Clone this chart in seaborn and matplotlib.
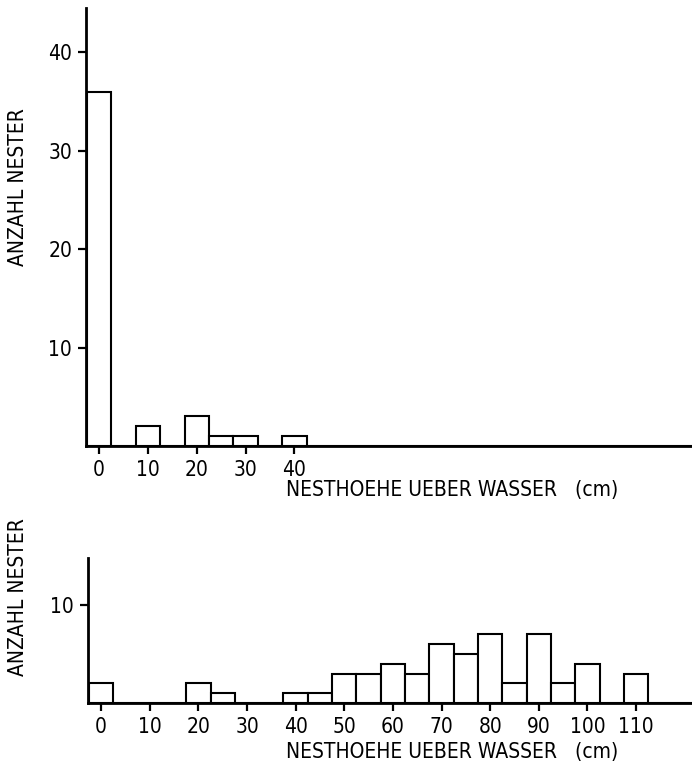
import numpy as np
import pandas as pd
import seaborn as sns
import matplotlib
matplotlib.use("Agg")
import matplotlib.pyplot as plt

# Data: bin centres (cm) and nest counts
top_heights = [0, 10, 20, 25, 30, 40]
top_counts = [36, 2, 3, 1, 1, 1]
bottom_heights = [0, 20, 25, 40, 45, 50, 55, 60, 65, 70, 75, 80, 85, 90, 95, 100, 110]
bottom_counts = [2, 2, 1, 1, 1, 3, 3, 4, 3, 6, 5, 7, 2, 7, 2, 4, 3]
top_xticks = [0, 10, 20, 30, 40]
bottom_xticks = [0, 10, 20, 30, 40, 50, 60, 70, 80, 90, 100, 110]
top_yticks = [10, 20, 30, 40]
bottom_yticks = [10]
xlabel = "NESTHOEHE UEBER WASSER   (cm)"
ylabel = "ANZAHL NESTER"

sns.set_theme(style="ticks")
plt.rcParams['font.family'] = ['DejaVu Sans']
plt.rcParams['font.stretch'] = 'condensed'
plt.rcParams['text.color'] = 'black'

W, H = 692, 773
fig = plt.figure(figsize=(W / 100, H / 100), dpi=100)

ax1 = fig.add_axes([86 / W, 1 - 446 / H, 1 - 86 / W, (446 - 8) / H])
ax2 = fig.add_axes([88 / W, 1 - 703 / H, 1 - 88 / W, (703 - 558) / H])

lw = 1.5
fs = 15

def draw(ax, xs, ws, ylim, xticks, yticks):
    df = pd.DataFrame({"h": xs, "n": ws})
    sns.histplot(data=df, x="h", weights="n", binwidth=5, binrange=(-2.5, 122.5),
                 ax=ax, color="white", edgecolor="black", linewidth=lw, alpha=1)
    ax.set_xlim(-2.7, 121.5)
    ax.set_ylim(0, ylim)
    ax.set_xticks(xticks)
    ax.set_yticks(yticks)
    ax.set_xlabel("")
    ax.set_ylabel("")
    for s in ["top", "right"]:
        ax.spines[s].set_visible(False)
    for s in ["left", "bottom"]:
        ax.spines[s].set_linewidth(2)
        ax.spines[s].set_color("black")
    ax.tick_params(axis="both", length=6, width=1.6, color="black",
                   labelsize=fs, labelcolor="black", pad=4)
    ax.set_facecolor("white")

draw(ax1, top_heights, top_counts, 44.5, top_xticks, top_yticks)
draw(ax2, bottom_heights, bottom_counts, 14.8, bottom_xticks, bottom_yticks)

fig.text(286 / W, 1 - 490 / H, xlabel, ha="left", va="center", fontsize=fs, color="black")
fig.text(286 / W, 1 - 752 / H, xlabel, ha="left", va="center", fontsize=fs, color="black")
fig.text(18 / W, 1 - 187 / H, ylabel, ha="center", va="center", rotation=90, fontsize=fs, color="black")
fig.text(18 / W, 1 - 597 / H, ylabel, ha="center", va="center", rotation=90, fontsize=fs, color="black")

fig.savefig("out.png", dpi=100, facecolor="white")
